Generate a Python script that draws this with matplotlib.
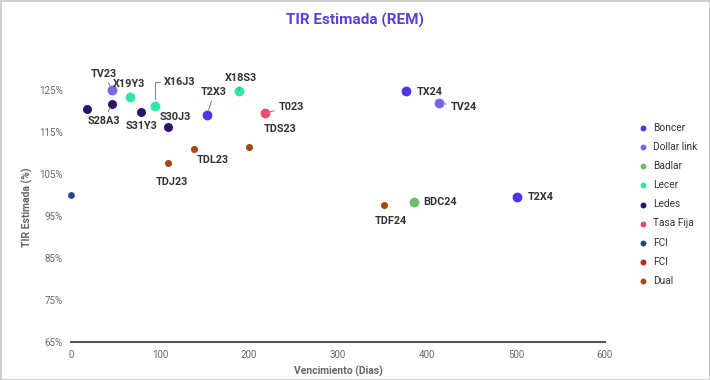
import matplotlib.pyplot as plt

plt.rcParams['font.family'] = ['Roboto', 'DejaVu Sans']

# ── Data (days to maturity, estimated IRR %) ─────────────────────────────────
boncer_names = ["T2X3", "TX24", "T2X4"]
boncer_x     = [153, 377, 501]
boncer_y     = [119.0, 124.8, 99.6]

dlink_names = ["TV23", "TV24"]
dlink_x     = [46, 413]
dlink_y     = [125.0, 121.9]

badlar_names = ["BDC24"]
badlar_x     = [385]
badlar_y     = [98.3]

lecer_names = ["X19Y3", "X16J3", "X18S3"]
lecer_x     = [66, 94, 189]
lecer_y     = [123.3, 121.2, 124.8]

ledes_names = ["", "S28A3", "S31Y3", "S30J3"]
ledes_x     = [18, 46, 79, 109]
ledes_y     = [120.5, 121.7, 119.8, 116.2]

fija_names = ["T023"]
fija_x     = [218]
fija_y     = [119.5]

fci_x = [0]
fci_y = [100.0]

dual_names = ["TDJ23", "TDL23", "TDS23", "TDF24"]
dual_x     = [109, 138, 200, 352]
dual_y     = [107.6, 111.0, 111.4, 97.6]

# label offsets in pixels (dx, dy) and whether a leader line is drawn
label_pos = {
    "TV23": (-8, 16, True), "TV24": (25, -4, True), "TX24": (23, -1, False),
    "T2X3": (7, 23, True), "T2X4": (24, 0, False), "BDC24": (26, 0, False),
    "X19Y3": (-1, 13, False), "X16J3": (25, 24, "elbow"), "X18S3": (2, 13, True),
    "S28A3": (-8, -17, True), "S31Y3": (0, -14, False), "S30J3": (7, 10, False),
    "T023": (26, 6, True), "TDJ23": (4, -19, False), "TDL23": (19, -11, False),
    "TDS23": (31, 18, False), "TDF24": (7, -16, False),
}

series = [
    ("Boncer", boncer_x, boncer_y, boncer_names, "#4f35e6", 50),
    ("Dollar link", dlink_x, dlink_y, dlink_names, "#7766e8", 50),
    ("Badlar", badlar_x, badlar_y, badlar_names, "#6bbf6b", 50),
    ("Lecer", lecer_x, lecer_y, lecer_names, "#2ee6aa", 50),
    ("Ledes", ledes_x, ledes_y, ledes_names, "#2c1170", 42),
    ("Tasa Fija", fija_x, fija_y, fija_names, "#ec4d6b", 50),
    ("FCI", fci_x, fci_y, [], "#1f4a8a", 24),
    ("FCI", [], [], [], "#c8202c", 24),
    ("Dual", dual_x, dual_y, dual_names, "#a34a12", 26),
]

fig = plt.figure(figsize=(7.1, 3.8), dpi=100)
fig.patch.set_edgecolor("#d0d0d0")
fig.patch.set_linewidth(2)
ax = fig.add_axes([0.1, 0.1, 0.752, 0.708])

for label, xs, ys, names, col, size in series:
    ax.scatter(xs, ys, s=size, color=col, label=label, zorder=3, linewidths=0,
               clip_on=False)
    for n, x, y in zip(names, xs, ys):
        if not n:
            continue
        dx, dy, line = label_pos[n]
        arrow = None
        if line == "elbow":
            arrow = dict(arrowstyle="-", color="#8a8a8a", lw=0.8, shrinkA=1, shrinkB=5,
                         connectionstyle="angle,angleA=0,angleB=90,rad=0")
        elif line:
            arrow = dict(arrowstyle="-", color="#8a8a8a", lw=0.8, shrinkA=1, shrinkB=3)
        ax.annotate(n, (x, y), xytext=(dx, dy), textcoords="offset pixels",
                    ha="center", va="center", fontsize=7.8, fontweight="bold",
                    color="#333333", arrowprops=arrow, zorder=4)

ax.set_xlim(0, 600)
ax.set_ylim(65, 129)
ax.set_xticks(range(0, 601, 100))
ax.set_yticks(range(65, 126, 10))
ax.set_yticklabels([f"{v}%" for v in range(65, 126, 10)])
ax.tick_params(length=0, labelsize=7, labelcolor="#666666", pad=6)
for side in ["top", "right", "left"]:
    ax.spines[side].set_visible(False)
ax.spines["bottom"].set_color("#555555")
ax.spines["bottom"].set_linewidth(1.5)

ax.set_xlabel("Vencimiento (Dias)", fontsize=7.5, color="#666666", fontweight="bold")
ax.set_ylabel("TIR Estimada (%)", fontsize=7.5, color="#666666", fontweight="bold")
fig.text(0.5, 0.945, "TIR Estimada (REM)", ha="center", va="center",
         fontsize=11, fontweight="bold", color="#5b3fd6")

leg = ax.legend(loc="upper left", bbox_to_anchor=(1.045, 0.83), frameon=False,
                fontsize=7.3, labelspacing=0.9, handletextpad=0.0,
                labelcolor="#333333", borderaxespad=0)
for h in leg.legend_handles:
    h.set_sizes([18])

fig.savefig("out.png", dpi=100)
